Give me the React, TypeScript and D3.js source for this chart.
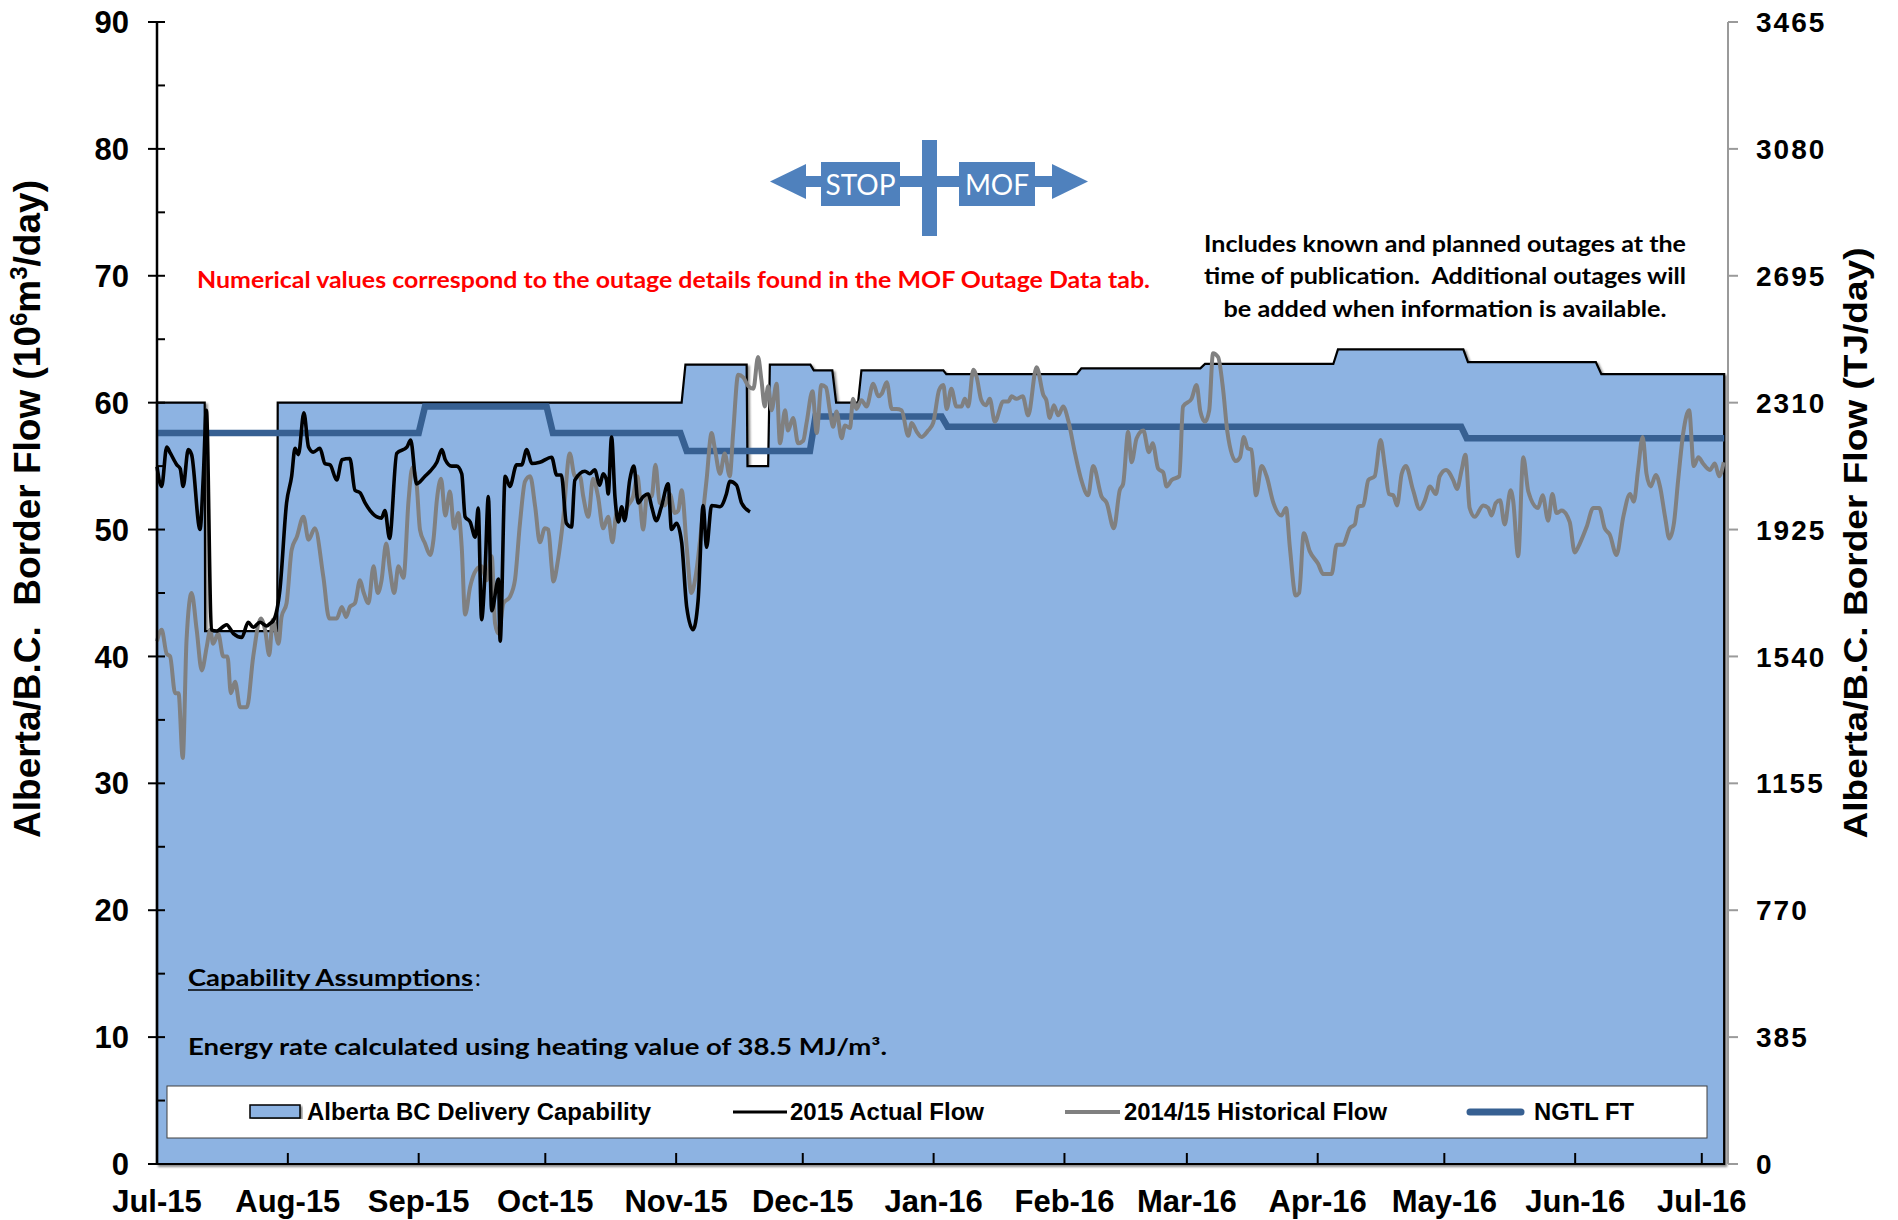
import React from 'react';
import * as d3 from 'd3';

// all day offsets count from 1 Jul 2015
const capDays = [0, 11.3, 11.4, 28.5, 28.6, 124.3, 125.2, 139.7, 139.9, 144.8, 145.2, 154.8, 155.6, 160, 160.9, 166.1, 166.9, 186.3, 187, 217.9, 219, 247.2, 248.3, 278.7, 279.8, 309.5, 310.6, 340.9, 342.2, 371.3];
const capValues = [60, 60, 42, 42, 60, 60, 63, 63, 55, 55, 63, 63, 62.55, 62.55, 60, 60, 62.55, 62.55, 62.25, 62.25, 62.7, 62.7, 63.05, 63.05, 64.2, 64.2, 63.2, 63.2, 62.25, 62.25];

const ngtlDays = [0, 62, 63.5, 92.3, 93.8, 124, 125.5, 154.7, 156, 185.9, 187.3, 309, 310.3, 371.3];
const ngtlValues = [57.6, 57.6, 59.7, 59.7, 57.6, 57.6, 56.2, 56.2, 58.9, 58.9, 58.1, 58.1, 57.2, 57.2];

const actualDays = [
  0, 1.1, 2.3, 3.2, 4.7, 5.5, 6.2, 7.4, 8.2, 10.2, 11.0, 11.7, 12.9, 14.1, 16.5, 18.1, 20.1, 21.6, 22.8, 24.4,
  26, 26.8, 27.7, 29.1, 30.7, 31.9, 32.7, 33.5, 34.8, 35.9, 37, 38.6, 39.8, 41, 42.6, 43.8, 45.7, 46.9, 48.1, 49.3,
  52.1, 53.2, 54, 55.1, 56.8, 59.2, 60.1, 61.5, 63.5, 64.7, 66.3, 67.5, 68.3, 69.8, 71, 72.2, 73, 74.2, 75.4, 76.1,
  76.9, 77.7, 78.5, 79.3, 80.9, 81.3, 82.5, 83.6, 85.2, 86.4, 87.6, 88.8, 90.7, 93.5, 94.7, 95.8, 97, 98.2, 99, 101.4,
  102.5, 103.7, 104.9, 105.7, 106.5, 106.9, 107.7, 108.5, 109.3, 110.1, 110.8, 112, 113, 114, 115.2, 116.4, 117.2, 118.3, 119.5, 121.1,
  121.9, 123.1, 124.3, 125.5, 127, 128.2, 129.4, 130.2, 131.4, 133.4, 134.9, 135.7, 137.3, 138.5, 140.5,
];
const actualValues = [
  54.95, 53.4, 56.5, 56.0, 55.1, 54.8, 53.4, 56.3, 55.9, 50.0, 54.4, 59.4, 42.1, 42.0, 42.5, 41.8, 41.5, 42.7, 42.3, 42.7,
  42.4, 42.6, 42.9, 45.2, 52.1, 54.2, 56.4, 55.9, 59.2, 56.5, 56.1, 56.4, 55.2, 55.1, 53.9, 55.5, 55.6, 53.1, 52.9, 52.1,
  51.0, 50.9, 51.5, 49.3, 56.0, 56.5, 57.05, 53.6, 54.2, 54.6, 55.3, 56.3, 55.5, 55.0, 55.0, 54.4, 51.0, 50.6, 49.4, 51.7,
  42.9, 46.5, 52.6, 43.6, 46.1, 41.2, 54.2, 53.4, 55.1, 55.1, 56.3, 55.2, 55.3, 55.7, 54.3, 54.3, 50.5, 50.2, 53.9, 54.6,
  54.4, 54.7, 53.5, 54.4, 53.9, 52.8, 57.3, 52.6, 50.6, 51.8, 50.7, 53.9, 55.0, 52.1, 52.6, 52.8, 51.8, 50.7, 51.8, 53.6,
  50.0, 50.5, 49.0, 43.9, 42.1, 44.4, 51.9, 48.6, 51.9, 51.8, 52.8, 53.8, 53.5, 52.1, 51.4,
];

const histDays = [
  0, 1.1, 2.3, 3.1, 4.3, 5.1, 6.1, 7, 8.2, 9.4, 10.6, 11.8, 12.6, 13.3, 14.5, 15.7, 16.7, 17.5, 18.5, 19.7,
  21.3, 22.8, 24.6, 25.6, 26.6, 27.4, 28.8, 29.5, 30.7, 31.9, 33.1, 34.7, 35.9, 37.4, 39.4, 40.8, 42.6, 43.8, 44.8, 45.7,
  46.9, 48.1, 48.9, 50.1, 51.3, 52.3, 53.2, 54.3, 55.2, 56.2, 57.2, 58.4, 59.6, 60.5, 61.5, 62.3, 63.5, 64.7, 65.5, 66.3,
  67.3, 68.3, 69.4, 70.4, 71.4, 72.2, 73, 74.2, 75.6, 76.9, 78.1, 79.3, 80.1, 80.9, 82.1, 83.6, 84.8, 86, 87.2, 88.4,
  89.6, 90.7, 91.9, 92.7, 93.5, 93.9, 95, 96.2, 97.8, 99, 100.2, 101, 102.2, 103.3, 104.5, 105.7, 106.9, 107.9, 108.9, 110.4,
  111.6, 112.8, 113.8, 115.2, 116.1, 117.2, 118.1, 119.1, 120.3, 121.5, 122.7, 123.5, 124.3, 125.5, 126.6, 127.7, 129, 130.2, 131.4, 132.2,
  133.4, 134.5, 135.7, 136.5, 137.7, 138.9, 140.1, 141.3, 142.4, 143.2, 144, 144.8, 145.6, 146.8, 147.6, 148.8, 149.5, 150.7, 151.9, 153.1,
  153.9, 155.3, 156.3, 157.4, 158.5, 159.4, 160.2, 161, 162.2, 163, 164.2, 164.9, 165.7, 166.9, 168.1, 169.7, 170.9, 171.7, 172.9, 174.1,
  175.2, 176.4, 178, 178.8, 180, 181.1, 182.7, 183.9, 185.3, 186.3, 187.1, 188.2, 189.4, 190.6, 191.4, 192.2, 193.4, 194.2, 195.3, 196.4,
  197.3, 198.5, 200.5, 201.7, 202.5, 203.6, 205.1, 206.4, 208.4, 210, 210.7, 211.5, 212.5, 213.5, 214.7, 215.9, 217.5, 219, 220.6, 221.8,
  223.8, 225, 226.7, 228.1, 228.9, 230.1, 230.9, 232.1, 233.7, 235, 235.9, 237.2, 238.4, 239.2, 240.4, 242.2, 243.1, 245.1, 246.3, 247.2,
  248.3, 249.3, 250.2, 251.4, 252.6, 253.6, 255.6, 256.6, 257.5, 258.4, 259.3, 260.4, 261.7, 262.9, 264.5, 266.4, 267.5, 268.4, 269.8, 270.6,
  271.7, 273.1, 275.1, 276.3, 277.5, 278.3, 279.5, 281, 282.6, 283.8, 284.6, 285.8, 287, 288.5, 289.9, 290.9, 291.9, 292.9, 293.8, 294.9,
  295.9, 297.6, 299.2, 300.4, 301.6, 303, 303.9, 305.4, 307.1, 308, 309.1, 310, 311, 312.2, 314.2, 315.4, 316.2, 317.2, 318.2, 319.3,
  320.7, 321.3, 322.5, 323.7, 324.9, 327.2, 328.3, 329.6, 330.6, 331.6, 332.8, 334.7, 335.9, 337.1, 338.7, 340.3, 341.7, 343, 344.2, 345.8,
  347.4, 349, 349.9, 350.9, 352, 352.9, 353.9, 355.1, 356.1, 357.3, 358.3, 359.4, 360.4, 361.6, 363, 364.1, 365.2, 366.3, 367.9, 369.1,
  370.1, 371.2,
];
const histValues = [
  41.2, 42.1, 40.2, 40.0, 37.1, 37.1, 32.0, 41.3, 45.0, 42.1, 38.9, 40.8, 42.1, 41.0, 41.8, 40.0, 40.0, 37.1, 38.0, 36.0,
  36.0, 40.0, 43.0, 42.1, 40.1, 42.9, 41.0, 43.1, 44.2, 48.4, 49.4, 51.0, 49.2, 50.1, 46.3, 43.0, 43.0, 43.9, 43.1, 43.9,
  44.2, 46.0, 45.1, 44.2, 47.1, 45.0, 46.0, 48.9, 46.8, 45.0, 47.1, 46.2, 52.3, 54.9, 53.6, 50.0, 48.9, 48.0, 49.2, 52.3,
  54.0, 51.1, 53.0, 50.1, 51.3, 48.6, 43.3, 45.5, 46.8, 47.1, 46.0, 47.9, 42.6, 41.8, 44.2, 44.7, 46.0, 50.5, 53.8, 54.2,
  51.8, 49.0, 50.1, 50.0, 47.1, 45.9, 47.6, 50.7, 56.0, 54.2, 54.2, 52.6, 51.0, 54.0, 52.6, 50.1, 51.0, 49.0, 51.3, 51.0,
  51.9, 52.6, 54.2, 50.0, 52.8, 52.6, 55.1, 52.1, 51.9, 52.8, 51.3, 51.5, 53.1, 48.6, 45.0, 46.5, 50.2, 53.9, 57.6, 56.3,
  54.4, 56.0, 54.2, 57.6, 62.2, 62.0, 61.3, 61.1, 63.6, 61.8, 59.7, 61.3, 59.4, 61.5, 56.8, 59.4, 57.8, 58.8, 56.8, 57.0,
  58.4, 60.9, 57.6, 61.4, 61.2, 59.4, 58.1, 59.3, 57.2, 58.2, 58.0, 60.3, 59.5, 60.2, 59.7, 61.5, 60.5, 60.7, 61.6, 59.5,
  59.5, 59.4, 57.4, 58.4, 57.7, 57.3, 57.8, 58.4, 61.0, 61.4, 59.5, 61.1, 59.7, 59.7, 60.3, 59.7, 62.6, 62.0, 60.2, 59.8,
  60.3, 58.5, 60.1, 60.1, 60.5, 60.3, 60.5, 59.0, 62.8, 60.6, 60.2, 58.8, 59.8, 59.0, 59.7, 58.6, 56.0, 53.9, 52.7, 55.0,
  52.6, 52.1, 50.1, 53.1, 53.6, 57.7, 55.3, 57.2, 57.8, 56.1, 56.8, 54.8, 54.5, 53.4, 53.9, 54.2, 59.7, 60.3, 61.4, 59.3,
  58.5, 59.4, 63.9, 63.6, 61.0, 57.7, 55.4, 55.7, 57.3, 56.4, 56.3, 52.7, 55.0, 54.2, 52.1, 51.1, 51.7, 48.6, 44.8, 45.0,
  49.7, 48.3, 47.3, 46.5, 46.5, 46.5, 48.8, 48.8, 50.1, 50.4, 51.8, 51.9, 53.9, 54.2, 57.05, 55.0, 52.8, 52.7, 51.9, 54.4,
  55.0, 53.1, 51.6, 52.3, 53.4, 52.8, 54.2, 54.7, 53.9, 53.2, 54.7, 55.9, 51.7, 51.0, 51.9, 51.7, 51.1, 52.1, 52.3, 50.4,
  53.1, 52.3, 47.9, 55.7, 53.0, 51.7, 52.7, 50.7, 52.8, 51.3, 51.5, 50.6, 48.2, 48.9, 50.2, 51.7, 51.7, 50.1, 49.6, 48.0,
  51.0, 52.8, 52.2, 54.7, 57.3, 54.4, 53.4, 54.3, 53.4, 51.0, 49.3, 50.5, 53.9, 57.6, 59.4, 55.0, 55.7, 55.2, 54.7, 55.2,
  54.2, 55.3,
];

const leftTicks = [0, 10, 20, 30, 40, 50, 60, 70, 80, 90];
const leftMinorTicks = [5, 15, 25, 35, 45, 55, 65, 75, 85];
const rightTicks = [0, 385, 770, 1155, 1540, 1925, 2310, 2695, 3080, 3465];

const legendLabels = ['Alberta BC Delivery Capability', '2015 Actual Flow', '2014/15 Historical Flow', 'NGTL FT'];

const axisFont = '"Liberation Sans", Arial, sans-serif';
const noteFont = 'Lato, "Open Sans", sans-serif';
const capFill = '#8db3e2';
const ngtlBlue = '#376092';
const histGray = '#808080';
const arrowBlue = '#4f81bd';

const plot = { left: 157, right: 1725, top: 22, bottom: 1164 };

type Pt = [Date, number];

const App: React.FC = () => {
  const start = Date.UTC(2015, 6, 1);
  const toDate = (d: number) => new Date(start + d * 864e5);
  const zip = (days: number[], vals: number[]): Pt[] => days.map((d, i) => [toDate(d), vals[i]]);

  const x = d3.scaleUtc().domain([toDate(0), toDate(371.5)]).range([plot.left, plot.right]);
  const y = d3.scaleLinear().domain([0, 90]).range([plot.bottom, plot.top]);
  const y2 = d3.scaleLinear().domain([0, 3465]).range([plot.bottom, plot.top]);

  const capArea = d3.area<Pt>().x(d => x(d[0])).y0(y(0)).y1(d => y(d[1]));
  const straight = d3.line<Pt>().x(d => x(d[0])).y(d => y(d[1]));
  const smooth = d3.line<Pt>().x(d => x(d[0])).y(d => y(d[1])).curve(d3.curveMonotoneX);

  const months = d3.utcMonth.range(toDate(0), toDate(372));
  const fmt = d3.utcFormat('%b-%y');

  const legendY = 1112;

  return (
    <svg width={1898} height={1220} style={{ position: 'absolute', left: 0, top: 0, background: '#fff' }}>
      <defs>
        <filter id="shadow" x="-5%" y="-5%" width="110%" height="110%">
          <feDropShadow dx="2" dy="2" stdDeviation="1.2" floodColor="#000" floodOpacity="0.45" />
        </filter>
      </defs>

      {/* capability area */}
      <path d={capArea(zip(capDays, capValues)) || ''} fill={capFill} stroke="#000" strokeWidth={2.2}
        strokeLinejoin="miter" filter="url(#shadow)" />

      {/* lines */}
      <path d={straight(zip(ngtlDays, ngtlValues)) || ''} fill="none" stroke={ngtlBlue} strokeWidth={6.5} />
      <path d={smooth(zip(histDays, histValues)) || ''} fill="none" stroke={histGray} strokeWidth={4} strokeLinejoin="round" />
      <path d={smooth(zip(actualDays, actualValues)) || ''} fill="none" stroke="#000" strokeWidth={3.6} strokeLinejoin="round" />

      {/* left axis */}
      <line x1={plot.left} x2={plot.left} y1={plot.top} y2={plot.bottom} stroke="#000" strokeWidth={2.5} />
      {leftTicks.map(t => (
        <g key={'l' + t}>
          <line x1={148} x2={165} y1={y(t)} y2={y(t)} stroke="#000" strokeWidth={2} />
          <text x={129} y={y(t)} dy="0.36em" textAnchor="end" fontFamily={axisFont} fontWeight="bold" fontSize={31}>{t}</text>
        </g>
      ))}
      {leftMinorTicks.map(t => (
        <line key={'m' + t} x1={plot.left} x2={165} y1={y(t)} y2={y(t)} stroke="#000" strokeWidth={2} />
      ))}

      {/* right axis */}
      <line x1={1728} x2={1728} y1={plot.top} y2={plot.bottom} stroke="#9a9a9a" strokeWidth={2} />
      {rightTicks.map(t => (
        <g key={'r' + t}>
          <line x1={1728} x2={1738} y1={y2(t)} y2={y2(t)} stroke="#9a9a9a" strokeWidth={2} />
          <text x={1756} y={y2(t)} dy="0.36em" fontFamily={axisFont} fontWeight="bold" fontSize={28} letterSpacing={2}>{t}</text>
        </g>
      ))}

      {/* bottom axis */}
      <line x1={plot.left} x2={plot.right} y1={plot.bottom} y2={plot.bottom} stroke="#000" strokeWidth={3} filter="url(#shadow)" />
      {months.map(m => (
        <g key={m.toISOString()}>
          <line x1={x(m)} x2={x(m)} y1={plot.bottom} y2={plot.bottom - 11} stroke="#000" strokeWidth={2} />
          <text x={x(m)} y={1212} textAnchor="middle" fontFamily={axisFont} fontWeight="bold" fontSize={31}>{fmt(m)}</text>
        </g>
      ))}

      {/* axis titles */}
      <text transform="translate(40,509) rotate(-90)" textAnchor="middle" fontFamily={axisFont} fontWeight="bold"
        fontSize={37} style={{ whiteSpace: 'pre' }}>
        {'Alberta/B.C.  Border Flow (10'}
        <tspan fontSize={24} dy={-13}>6</tspan>
        <tspan dy={13}>m</tspan>
        <tspan fontSize={24} dy={-13}>3</tspan>
        <tspan dy={13}>/day)</tspan>
      </text>
      <text transform="translate(1867,543) rotate(-90)" textAnchor="middle" fontFamily={axisFont} fontWeight="bold"
        fontSize={33} textLength={591} lengthAdjust="spacingAndGlyphs">
        Alberta/B.C. Border Flow (TJ/day)
      </text>

      {/* legend */}
      <rect x={167} y={1086} width={1540} height={52} fill="#fff" stroke="#404040" strokeWidth={1} />
      <rect x={250} y={1105} width={50} height={13} fill={capFill} stroke="#000" strokeWidth={1.5} filter="url(#shadow)" />
      <line x1={733} x2={787} y1={legendY} y2={legendY} stroke="#000" strokeWidth={3} />
      <line x1={1065} x2={1120} y1={legendY} y2={legendY} stroke={histGray} strokeWidth={4} />
      <line x1={1470} x2={1521} y1={legendY} y2={legendY} stroke={ngtlBlue} strokeWidth={7} strokeLinecap="round" />
      {[[307, 344], [790, 194], [1124, 263], [1534, 100]].map(([lx, len], i) => (
        <text key={legendLabels[i]} x={lx} y={1120} fontFamily={axisFont} fontWeight="bold" fontSize={23}
          textLength={len} lengthAdjust="spacingAndGlyphs">{legendLabels[i]}</text>
      ))}

      {/* notes */}
      <text x={197} y={288} fontFamily={noteFont} fontWeight="bold" fontSize={23} fill="#ff0000"
        textLength={953} lengthAdjust="spacingAndGlyphs">
        Numerical values correspond to the outage details found in the MOF Outage Data tab.
      </text>
      <g fontFamily={noteFont} fontWeight="bold" fontSize={22} textAnchor="middle">
        <text x={1445} y={252} textLength={482} lengthAdjust="spacingAndGlyphs">Includes known and planned outages at the</text>
        <text x={1445} y={284} textLength={482} lengthAdjust="spacingAndGlyphs" style={{ whiteSpace: 'pre' }}>time of publication.  Additional outages will</text>
        <text x={1445} y={317} textLength={443} lengthAdjust="spacingAndGlyphs">be added when information is available.</text>
      </g>
      <text x={188} y={986} fontFamily={noteFont} fontWeight="bold" fontSize={23} textLength={285} lengthAdjust="spacingAndGlyphs">
        Capability Assumptions
      </text>
      <text x={475} y={986} fontFamily={noteFont} fontSize={23}>:</text>
      <line x1={188} x2={473} y1={990} y2={990} stroke="#000" strokeWidth={1.6} />
      <text x={188} y={1055} fontFamily={noteFont} fontWeight="bold" fontSize={22} textLength={699} lengthAdjust="spacingAndGlyphs">
        Energy rate calculated using heating value of 38.5 MJ/m³.
      </text>

      {/* STOP / MOF marker */}
      <g fill={arrowBlue}>
        <rect x={805} y={176} width={248} height={11} />
        <polygon points="770,181.5 806,164 806,199" />
        <polygon points="1088,181.5 1052,164 1052,199" />
        <rect x={821} y={162} width={79} height={44} />
        <rect x={959} y={162} width={76} height={44} />
        <rect x={922} y={140} width={15} height={96} />
      </g>
      <text x={860.5} y={195} textAnchor="middle" fill="#fff" fontFamily={noteFont} fontSize={28}>STOP</text>
      <text x={997} y={195} textAnchor="middle" fill="#fff" fontFamily={noteFont} fontSize={28}>MOF</text>
    </svg>
  );
};

export default App;
